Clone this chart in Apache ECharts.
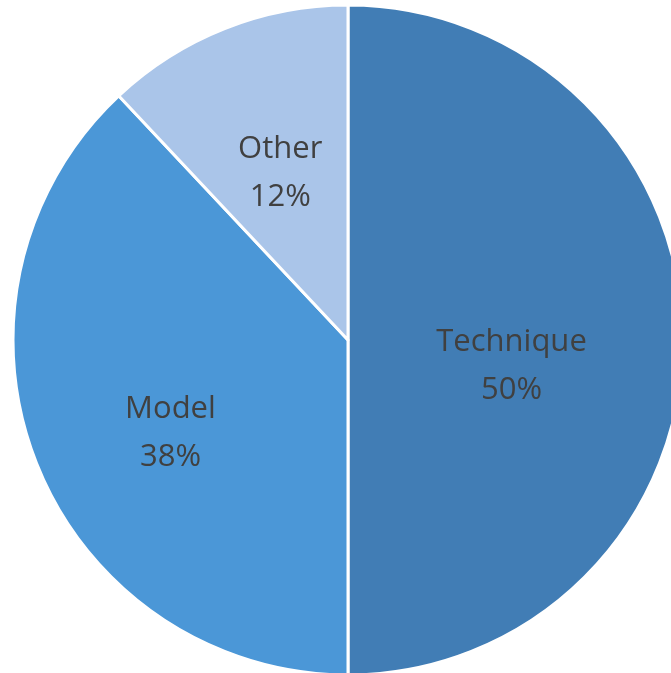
<!DOCTYPE html>
<html><head><meta charset="utf-8">
<script src="https://cdn.jsdelivr.net/npm/echarts@6/dist/echarts.min.js"></script>
<style>html,body{margin:0;padding:0;background:#fff}#c{width:671px;height:673px}</style>
</head><body><div id="c"></div>
<script>
const categories = ['Technique', 'Model', 'Other'];
const values = [50, 38, 12];
const colors = ['#417DB5', '#4B97D7', '#AAC5E9'];
const labelOffsets = [[-7, 26], [-19, 30], [-5, -8]];
const chart = echarts.init(document.getElementById('c'), null, {renderer: 'canvas'});
chart.setOption({
  animation: false,
  series: [{
    type: 'pie',
    center: [348, 340],
    radius: 335,
    startAngle: 90,
    clockwise: true,
    itemStyle: {borderColor: '#fff', borderWidth: 3},
    label: {
      position: 'inside',
      formatter: p => p.name + '\n' + Math.round(p.percent) + '%',
      fontFamily: 'Open Sans',
      fontSize: 31,
      lineHeight: 48,
      color: '#404040'
    },
    labelLine: {show: false},
    data: categories.map((c, i) => ({
      name: c, value: values[i],
      itemStyle: {color: colors[i]},
      label: {offset: labelOffsets[i]}
    }))
  }]
});
</script></body></html>
